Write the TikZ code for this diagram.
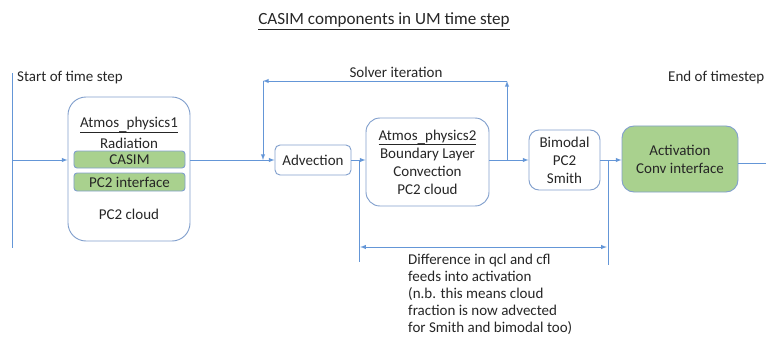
\documentclass[tikz,border=0pt]{standalone}
\usepackage{fontspec}
\setmainfont{Carlito}
\usepackage{xcolor}
\usepackage{tikz}
\usetikzlibrary{arrows}
\usetikzlibrary{shapes}
\usetikzlibrary{positioning}

\definecolor{flowblue}{RGB}{100,150,215}
\definecolor{boxedge}{RGB}{130,160,205}
\definecolor{actgreen}{RGB}{169,209,142}
\definecolor{inkgrey}{RGB}{38,38,38}

\newcommand{\lowbar}{\smash{\raisebox{-0.35ex}{\_}}}

\begin{document}
\begin{tikzpicture}[x=0.03cm, y=-0.03cm,
  font=\fontsize{12.8}{15.3}\selectfont, text=inkgrey,
  flow/.style={draw=flowblue, line width=0.7pt},
  box/.style={rectangle, draw=boxedge, line width=0.8pt, align=center},
  greenbox/.style={box, fill=actgreen, rounded corners=0.09cm, minimum width=3.33cm}]
\useasboundingbox (0,0) rectangle (766,338);

% titles
\node [font=\fontsize{14.6}{17}\selectfont] (title) at (384, 21) {\underline{CASIM components in UM time step}};
\node [anchor=west, inner sep=0] (start) at (17, 78) {Start of time step};
\node [anchor=west, inner sep=0] (end) at (668, 78) {End of timestep};
\node [inner sep=0] (solver) at (396, 72) {Solver iteration};

% boxes
\node [box, rounded corners=0.54cm, minimum width=3.66cm, minimum height=4.32cm] (phys1) at (129, 169) {};
\node [inner sep=0] (p1name) at (129, 125) {\underline{Atmos\lowbar physics1}};
\node [inner sep=0] (p1rad) at (129, 143) {Radiation};
\node [greenbox, minimum height=0.51cm, inner sep=0] (casim) at (129.5, 159.5) {CASIM};
\node [greenbox, minimum height=0.54cm, inner sep=0] (pc2if) at (129.5, 182) {PC2 interface};
\node [inner sep=0] (p1cloud) at (129, 214) {PC2 cloud};

\node [box, rounded corners=0.15cm, minimum width=2.28cm, minimum height=0.9cm] (adv) at (313, 160) {Advection};
\node [box, rounded corners=0.42cm, minimum width=3.69cm, minimum height=2.64cm] (phys2) at (427.5, 162)
  {\underline{Atmos\lowbar physics2}\\Boundary Layer\\Convection\\PC2 cloud};
\node [box, rounded corners=0.3cm, minimum width=2.13cm, minimum height=1.8cm] (bimodal) at (564.5, 160)
  {Bimodal\\PC2\\Smith};
\node [box, fill=actgreen, rounded corners=0.36cm, minimum width=3.48cm, minimum height=1.98cm] (act) at (680, 159)
  {Activation\\Conv interface};

\node [anchor=north west, inner sep=0, align=left, font=\fontsize{12.8}{14.5}\selectfont] (note) at (408, 254)
  {Difference in qcl and cfl\\feeds into activation\\(n.b. this means cloud\\fraction is now advected\\for Smith and bimodal too)};

% free ends
\coordinate (ttop) at (12, 73);
\coordinate (tbot) at (12, 248);
\coordinate (tin) at (12, 160);
\coordinate (tend) at (766, 163);
\coordinate (solvtop) at (507, 81);
\coordinate (solvleft) at (263, 81);
\coordinate (dleft) at (359, 262);
\coordinate (dright) at (608, 265);
\coordinate (dla) at (359, 247);
\coordinate (dlb) at (608, 247);

% main flow
\draw [flow] (ttop) -- (tbot);
\draw [-latex, flow] (tin) -- (tin -| phys1.west);
\draw [-latex, flow] (phys1.east |- adv.west) -- (adv.west);
\draw [-latex, flow] (adv.east) -- (adv.east -| phys2.west);
\draw [-latex, flow] (phys2.east |- bimodal.west) -- (bimodal.west);
\draw [-latex, flow] (bimodal.east) -- (bimodal.east -| act.west);
\draw [flow] (act.east |- tend) -- (tend);

% solver loop
\draw [-latex, flow] (solvtop |- bimodal.west) -- (solvtop);
\draw [-latex, flow] (solvtop) -- (solvleft);
\draw [-latex, flow] (solvleft) -- (solvleft |- adv.west);

% difference bracket
\draw [flow] (dleft |- adv.east) -- (dleft);
\draw [flow] (dright |- bimodal.east) -- (dright);
\draw [latex-latex, flow, shorten <=1pt, shorten >=1pt] (dla) -- (dlb);
\end{tikzpicture}
\end{document}
